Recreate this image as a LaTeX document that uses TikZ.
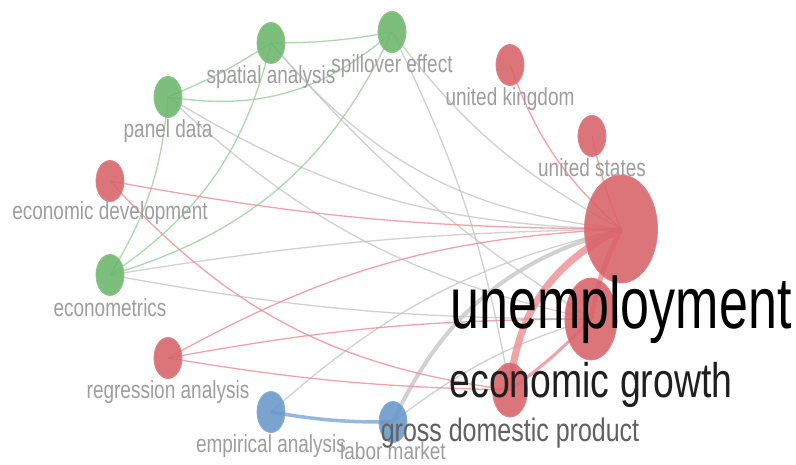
\documentclass[tikz,border=0pt]{standalone}
\usepackage{fontspec}
\setmainfont{Liberation Sans}
\usepackage{tikz}
\usetikzlibrary{positioning,shapes.geometric,backgrounds}
\definecolor{termred}{RGB}{216,98,104}
\definecolor{termgreen}{RGB}{108,182,108}
\definecolor{termblue}{RGB}{104,152,202}
\definecolor{linkred}{RGB}{240,140,145}
\definecolor{linkgreen}{RGB}{150,208,150}
\definecolor{linkgray}{RGB}{198,198,198}
\definecolor{linkblue}{RGB}{120,168,214}
\newcommand{\tall}[2][1.3]{\scalebox{1}[#1]{#2}}

\begin{document}
\begin{tikzpicture}[x=1pt, y=-1pt,
    term/.style={ellipse, inner sep=0pt, minimum width=28pt, minimum height=41pt, fill opacity=0.88, line width=0.8pt},
    redterm/.style={fill=termred, draw=termred!80!white},
    greenterm/.style={fill=termgreen, draw=termgreen!80!white},
    blueterm/.style={fill=termblue, draw=termblue!80!white},
    lbl/.style={inner sep=0pt, text=black!38, font=\fontsize{19}{19}\selectfont},
    link/.style={line width=1.3pt, opacity=0.8}]
  \useasboundingbox (0,0) rectangle (796,464);

  \node[term, greenterm] (spatial) at (271,43) {};
  \node[term, greenterm] (spill) at (392,32) {};
  \node[term, greenterm] (panel) at (168,97) {};
  \node[term, redterm] (econdev) at (110,181) {};
  \node[term, greenterm] (emetrics) at (110,275) {};
  \node[term, redterm] (regress) at (168,358) {};
  \node[term, blueterm] (empir) at (271,412) {};
  \node[term, blueterm] (labor) at (393,422) {};
  \node[term, redterm] (uk) at (510,65) {};
  \node[term, redterm] (us) at (592,136) {};
  \node[term, redterm, minimum width=35pt, minimum height=54pt] (gdp) at (510,390) {};
  \node[term, redterm, minimum width=52pt, minimum height=82pt] (growth) at (591,319) {};
  \node[term, redterm, minimum width=73pt, minimum height=108pt] (unemp) at (621,229) {};

  \node[lbl, below=1pt of spatial] (spatiallbl) {\tall{spatial analysis}};
  \node[lbl, below=1pt of spill] (spilllbl) {\tall{spillover effect}};
  \node[lbl, below=1pt of panel] (panellbl) {\tall{panel data}};
  \node[lbl, below=-1pt of econdev] (econdevlbl) {\tall{economic development}};
  \node[lbl, below=2pt of emetrics] (emetricslbl) {\tall{econometrics}};
  \node[lbl, below=1pt of regress] (regresslbl) {\tall{regression analysis}};
  \node[lbl, below=1pt of empir] (empirlbl) {\tall{empirical analysis}};
  \node[lbl, below=-1pt of labor] (laborlbl) {\tall[1.25]{labor market}};
  \node[lbl, below=1pt of uk] (uklbl) {\tall{united kingdom}};
  \node[lbl, below=1pt of us] (uslbl) {\tall{united states}};
  \node[lbl, below=0pt of gdp, text=black!62, font=\fontsize{25}{25}\selectfont] (gdplbl) {\tall{gross domestic product}};
  \node[lbl, below=2pt of growth, text=black!88, font=\fontsize{37.4}{37.4}\selectfont] (growthlbl) {\tall{economic growth}};
  \node[lbl, below=-8pt of unemp, text=black, font=\fontsize{52}{52}\selectfont] (unemplbl) {\tall[1.4]{unemployment}};

  \begin{pgfonlayer}{background}
    \fill[white] (0,0) rectangle (796,464);
    % links between terms
    \draw[link, linkgray] (panel.center) to[bend right=15] (unemp.center);
    \draw[link, linkgray] (panel.center) to[bend right=15] (growth.center);
    \draw[link, linkgray] (spatial.center) to[bend right=22] (unemp.center);
    \draw[link, linkgray] (spatial.center) to[bend right=8] (growth.center);
    \draw[link, linkgray] (spill.center) to[bend right=12] (unemp.center);
    \draw[link, linkgray] (spill.center) to[bend left=8] (gdp.center);
    \draw[link, linkgray] (emetrics.center) to[bend left=4] (unemp.center);
    \draw[link, linkgray] (emetrics.center) to[bend right=5] (growth.center);
    \draw[link, linkgray] (empir.center) to[bend left=14] (unemp.center);
    \draw[link, linkgray] (labor.center) to[bend left=10] (growth.center);
    \draw[link, linkgray, line width=4pt] (labor.center) to[bend left=25] (unemp.center);

    \draw[link, linkgreen] (spatial.center) to[bend right=5] (spill.center);
    \draw[link, linkgreen] (panel.center) to[bend right=5] (spatial.center);
    \draw[link, linkgreen] (panel.center) to[bend right=25] (spill.center);
    \draw[link, linkgreen] (emetrics.center) to[bend right=13] (panel.center);
    \draw[link, linkgreen] (emetrics.center) to[bend right=21] (spatial.center);
    \draw[link, linkgreen] (emetrics.center) to[bend right=24] (spill.center);

    \draw[link, linkred] (econdev.center) to[bend right=5] (unemp.center);
    \draw[link, linkred] (econdev.center) to[bend right=20] (gdp.center);
    \draw[link, linkred] (regress.center) to[bend left=13] (unemp.center);
    \draw[link, linkred] (regress.center) to[bend left=5] (growth.center);
    \draw[link, linkred] (regress.center) to[bend right=4] (gdp.center);
    \draw[link, linkred] (uk.center) to[bend right=14] (unemp.center);
    \draw[link, linkred] (us.center) to[bend right=5] (unemp.center);
    \draw[link, linkred, line width=3pt] (growth.center) to[bend left=5] (gdp.center);
    \draw[link, linkred, line width=5pt] (unemp.center) to[bend right=8] (growth.center);
    \draw[link, linkred, line width=7pt] (unemp.center) to[bend right=30] (gdp.center);

    \draw[link, linkblue, line width=3.5pt] (empir.center) to[bend right=5] (labor.center);
  \end{pgfonlayer}
\end{tikzpicture}
\end{document}
